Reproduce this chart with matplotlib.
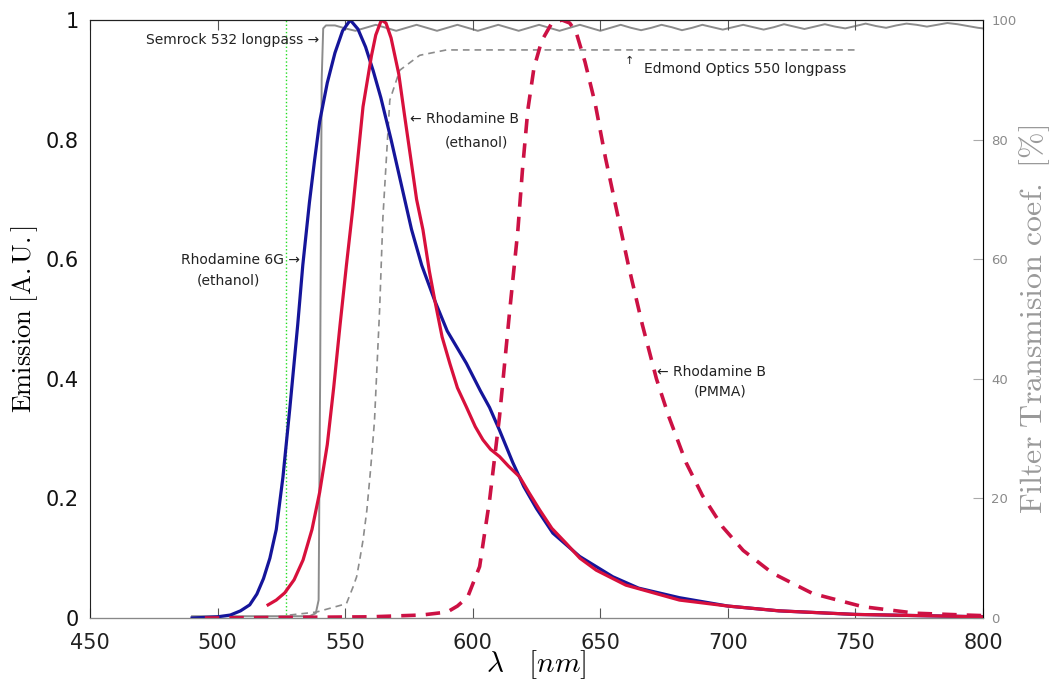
import matplotlib
matplotlib.use('Agg')
import matplotlib.pyplot as plt

plt.rcParams['mathtext.fontset'] = 'cm'

# Rhodamine 6G (ethanol) emission
r6g_nm = [490, 500, 505, 509, 512.6, 515.4, 518, 520.5, 523, 525.6, 528.3, 531.4, 533.4, 536, 538,
          540, 543, 546, 549, 552, 555, 558, 561, 564, 568, 572, 576, 580, 585, 590, 597.5, 603,
          606.6, 610.5, 615.7, 620, 625, 631.4, 641.9, 654.9, 665, 681, 700, 720, 750, 800]
r6g_em = [0.0, 0.002, 0.005, 0.012, 0.022, 0.04, 0.066, 0.1, 0.148, 0.235, 0.35, 0.49, 0.59, 0.695, 0.765,
          0.83, 0.895, 0.945, 0.982, 1.0, 0.985, 0.955, 0.915, 0.87, 0.8, 0.725, 0.65, 0.59, 0.532, 0.48,
          0.426, 0.38, 0.352, 0.314, 0.26, 0.22, 0.183, 0.142, 0.103, 0.069, 0.05, 0.034, 0.02,
          0.012, 0.006, 0.002]

# Rhodamine B (ethanol) emission
rbe_nm = [519.8, 523, 526.3, 530, 533.5, 537, 540, 543, 545.5, 548, 550.5, 553, 555, 557, 560.3, 562,
          564.2, 566, 568, 571, 573.3, 576, 578, 580.5, 583, 585.1, 588, 591, 594, 597.5, 601, 604,
          607, 610.5, 614, 618.4, 622, 626.2, 631, 636.6, 642, 648.4, 660, 681, 700, 720, 750, 800]
rbe_em = [0.022, 0.03, 0.042, 0.064, 0.097, 0.148, 0.21, 0.29, 0.385, 0.49, 0.59, 0.685, 0.77, 0.855,
          0.94, 0.975, 1.0, 0.995, 0.97, 0.91, 0.84, 0.76, 0.7, 0.649, 0.58, 0.532, 0.47, 0.426,
          0.385, 0.353, 0.32, 0.298, 0.282, 0.27, 0.254, 0.236, 0.21, 0.181, 0.15, 0.125, 0.1, 0.08,
          0.055, 0.03, 0.02, 0.012, 0.006, 0.002]

# Rhodamine B (PMMA) emission
rbp_nm = [495, 560, 580, 590, 594, 598, 602.7, 606.6, 610.5, 614.4, 617.7, 619.5, 621.6, 624, 627,
          631, 635, 638, 640.5, 644, 648, 652, 656, 661, 666.5, 672, 677, 683.6, 690, 698, 706,
          717.5, 733.2, 752.8, 773.6, 793, 800]
rbp_em = [0.0, 0.002, 0.005, 0.01, 0.02, 0.035, 0.086, 0.197, 0.337, 0.51, 0.649, 0.75, 0.85, 0.92,
          0.965, 0.995, 1.0, 0.995, 0.98, 0.93, 0.86, 0.77, 0.69, 0.59, 0.49, 0.40, 0.335, 0.26,
          0.205, 0.152, 0.113, 0.075, 0.041, 0.019, 0.008, 0.005, 0.004]

# Semrock 532 longpass transmission [%]
sem_nm = [490, 536, 538.5, 539.6, 540.2, 540.8, 541.4, 542.5,
          546, 550, 554, 558, 562, 566, 570, 574, 578, 582, 586, 590, 594, 598, 602, 606, 610, 614,
          618, 622, 626, 630, 634, 638, 642, 646, 650, 654, 658, 662, 666, 670, 674, 678, 682, 686,
          690, 694, 698, 702, 706, 710, 714, 718, 722, 726, 730, 734, 738, 742, 746, 750, 754, 758,
          762, 766, 770, 774, 778, 782, 786, 790, 794, 798, 800]
sem_tr = [0.3, 0.3, 0.8, 3, 40, 90, 98.6, 99.1,
          99.1, 98.6, 98.2, 98.7, 99.2, 98.7, 98.2, 98.7, 99.2, 98.7, 98.2, 98.7, 99.2, 98.7, 98.2,
          98.7, 99.2, 98.7, 98.2, 98.7, 99.2, 98.7, 98.2, 98.7, 99.2, 98.7, 98.2, 98.7, 99.2, 98.7,
          98.3, 98.7, 99.2, 98.8, 98.3, 98.7, 99.2, 98.8, 98.4, 98.8, 99.2, 98.8, 98.4, 98.8, 99.3,
          98.9, 98.5, 98.9, 99.3, 98.9, 98.6, 99.0, 99.4, 99.0, 98.7, 99.1, 99.4, 99.2, 98.9, 99.2,
          99.5, 99.3, 99.0, 98.7, 98.6]

# Edmond Optics 550 longpass transmission [%]
edm_nm = [528.3, 538.8, 550.5, 553.1, 554.5, 555.7, 557, 558.5, 560, 561.5, 563.5, 564.8, 567.5,
          571.4, 579.2, 589.7, 750]
edm_tr = [0.5, 1.0, 2.4, 5.2, 6.9, 9.7, 13, 18, 25, 33, 51.5, 67, 86.6, 91.6, 94.1, 95, 95]

laser_nm = 527

xticks = [450, 500, 550, 600, 650, 700, 750, 800]
yticks = [0, 0.2, 0.4, 0.6, 0.8, 1]
ylabels = ['0', '0.2', '0.4', '0.6', '0.8', '1']
rticks = [0, 20, 40, 60, 80, 100]
rlabels = ['0', '20', '40', '60', '80', '100']

fig = plt.figure(figsize=(10.55, 6.86), dpi=100)
ax = fig.add_axes([0.0853, 0.0991, 0.8465, 0.8717])
ax2 = ax.twinx()
ax.set_zorder(ax2.get_zorder() + 1)
ax.patch.set_visible(False)

grey = '#8c8c8c'
ax2.plot(sem_nm, sem_tr, color=grey, lw=1.4)
ax2.plot(edm_nm, edm_tr, color=grey, lw=1.2, dashes=(4, 3))
ax2.set_ylim(0, 100)
ax2.set_yticks(rticks)
ax2.set_yticklabels(rlabels)
ax2.tick_params(axis='y', direction='in', length=7, color='#aaaaaa', labelcolor='#8a8a8a',
                labelsize=9.5, pad=6)
ax2.set_ylabel(r'$\mathrm{Filter\ Transmision\ coef.\ [\%]}$', color='#999999', fontsize=23,
               labelpad=0)

ax.axvline(laser_nm, color='#22dd22', lw=1.0, ls=':')
ax.plot(r6g_nm, r6g_em, color='#15159a', lw=2.3)
ax.plot(rbe_nm, rbe_em, color='#d8103c', lw=2.3)
ax.plot(rbp_nm, rbp_em, color='#cc1144', lw=2.6, dashes=(4, 2.8))

ax.set_xlim(450, 800)
ax.set_ylim(0, 1)
ax.set_xticks(xticks)
ax.set_yticks(yticks)
ax.set_yticklabels(ylabels)
ax.tick_params(axis='x', direction='in', length=7, color='#555555', top=True, labelsize=15,
               labelcolor='#222222', pad=11)
ax.tick_params(axis='y', length=0, labelsize=15, labelcolor='#111111', pad=8)
ax.set_xlabel(r'$\lambda\quad[nm]$', fontsize=21, labelpad=-4)
ax.set_ylabel(r'$\mathrm{Emission\ [A.U.]}$', fontsize=19, labelpad=4)

for sp in ['left', 'top']:
    ax.spines[sp].set_color('#222222')
ax.spines['bottom'].set_color('#888888')
ax2.spines['right'].set_color('#bbbbbb')
ax2.spines['left'].set_visible(False)

tc = '#222222'
fs = 10
ax.text(540, 0.967, u'Semrock 532 longpass \u2192', ha='right', va='center', fontsize=fs, color=tc)
ax.text(575.3, 0.835, u'\u2190 Rhodamine B', ha='left', va='center', fontsize=fs, color=tc)
ax.text(601.5, 0.796, '(ethanol)', ha='center', va='center', fontsize=fs, color=tc)
ax.text(532.2, 0.599, u'Rhodamine 6G \u2192', ha='right', va='center', fontsize=fs, color=tc)
ax.text(504.4, 0.565, '(ethanol)', ha='center', va='center', fontsize=fs, color=tc)
ax.text(672.4, 0.412, u'\u2190 Rhodamine B', ha='left', va='center', fontsize=fs, color=tc)
ax.text(697, 0.378, '(PMMA)', ha='center', va='center', fontsize=fs, color=tc)
ax.text(661.4, 0.932, u'\u2191', ha='center', va='center', fontsize=8, color=tc)
ax.text(667.3, 0.918, 'Edmond Optics 550 longpass', ha='left', va='center', fontsize=fs, color=tc)

plt.savefig('out.png', dpi=100)
